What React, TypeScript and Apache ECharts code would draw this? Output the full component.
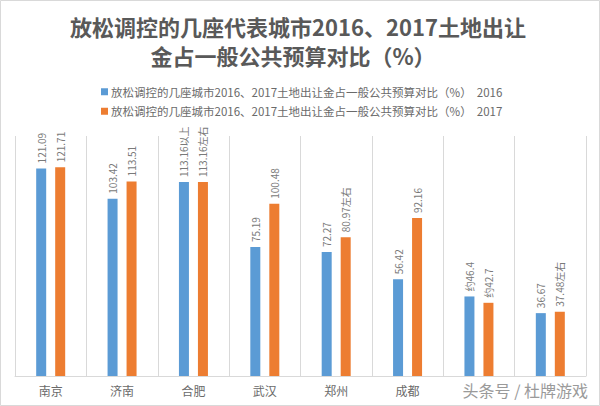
import React, { useEffect, useRef } from "react";
import * as echarts from "echarts";

const titleLines = ["放松调控的几座代表城市2016、2017土地出让", "金占一般公共预算对比（%）"];
const categories = ["南京", "济南", "合肥", "武汉", "郑州", "成都", "", ""];
const seriesNames = [
  "放松调控的几座城市2016、2017土地出让金占一般公共预算对比（%）  2016",
  "放松调控的几座城市2016、2017土地出让金占一般公共预算对比（%）  2017",
];
const values2016 = [121.09, 103.42, 113.16, 75.19, 72.27, 56.42, 46.4, 36.67];
const values2017 = [121.71, 113.51, 113.16, 100.48, 80.97, 92.16, 42.7, 37.48];
const labels2016 = ["121.09", "103.42", "113.16以上", "75.19", "72.27", "56.42", "约46.4", "36.67"];
const labels2017 = ["121.71", "113.51", "113.16左右", "100.48", "80.97左右", "92.16", "约42.7", "37.48左右"];
const watermark = "头条号 / 杜牌游戏";

export default function App() {
  const ref = useRef<HTMLDivElement>(null);
  useEffect(() => {
    const chart = echarts.init(ref.current!, null, { renderer: "svg" });
    const labelStyle = (arr: string[]) => ({
      show: true,
      position: "top",
      distance: 5,
      rotate: 90,
      align: "left",
      verticalAlign: "middle",
      fontSize: 10,
      color: "#7a7a7a",
      fontFamily: "Noto Sans CJK SC",
      formatter: (p: any) => arr[p.dataIndex],
    });
    const titleStyle = {
      fontSize: 22,
      lineHeight: 24,
      fontWeight: "bold",
      fill: "#595959",
      fontFamily: "Noto Sans CJK SC",
      align: "center",
      verticalAlign: "middle",
    };
    chart.setOption({
      animation: false,
      backgroundColor: "#ffffff",
      textStyle: { fontFamily: "Noto Sans CJK SC" },
      legend: {
        orient: "vertical",
        left: 96,
        top: 81,
        itemWidth: 7,
        itemHeight: 7,
        itemGap: 8,
        icon: "rect",
        data: seriesNames,
        textStyle: { fontSize: 11.5, color: "#6a6a6a", fontFamily: "Noto Sans CJK SC", padding: [0, 0, 0, -2] },
      },
      grid: { left: 15, right: 14, top: 136, bottom: 30 },
      xAxis: {
        type: "category",
        data: categories,
        boundaryGap: true,
        axisLine: { lineStyle: { color: "#d9d9d9" } },
        axisTick: { show: false },
        axisLabel: { fontSize: 12, color: "#6a6a6a", margin: 8, fontFamily: "Noto Sans CJK SC" },
        splitLine: { show: true, lineStyle: { color: "#d9d9d9" } },
      },
      yAxis: {
        type: "value",
        min: 0,
        max: 140,
        show: false,
        splitLine: { show: false },
      },
      series: [
        {
          name: seriesNames[0],
          type: "bar",
          data: values2016,
          barWidth: 10,
          barGap: "90%",
          itemStyle: { color: "#5B9BD5" },
          label: labelStyle(labels2016),
        },
        {
          name: seriesNames[1],
          type: "bar",
          data: values2017,
          barWidth: 10,
          barGap: "90%",
          itemStyle: { color: "#ED7D31" },
          label: labelStyle(labels2017),
        },
      ],
      graphic: [
        {
          type: "rect",
          shape: { x: 0.5, y: 0.5, width: 599, height: 405 },
          style: { fill: "none", stroke: "#d9d9d9", lineWidth: 1 },
          silent: true,
        },
        { type: "text", x: 298, y: 26, style: { ...titleStyle, text: titleLines[0] }, silent: true },
        { type: "text", x: 293, y: 55, style: { ...titleStyle, text: titleLines[1] }, silent: true },
        {
          type: "text",
          right: 12,
          top: 382,
          style: { text: watermark, fontSize: 16, fill: "#9a9a9a", fontFamily: "Noto Sans CJK SC" },
          silent: true,
        },
      ],
    });
    return () => chart.dispose();
  }, []);
  return <div ref={ref} style={{ position: "fixed", left: 0, top: 0, width: 600, height: 406 }} />;
}
